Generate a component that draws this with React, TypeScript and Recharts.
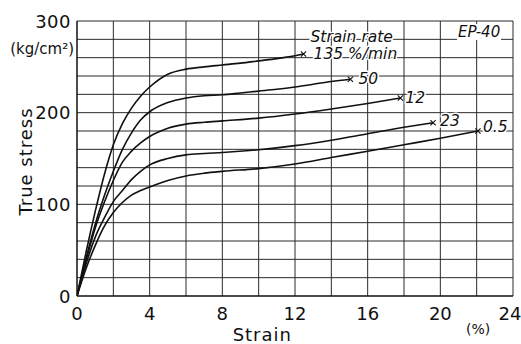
import React from "react";
import { LineChart, Line, XAxis, YAxis, ReferenceLine } from "recharts";

// ---- data (strain in %, true stress in kg/cm²) ----
const strain135 = [0, 0.5, 1, 1.5, 2, 2.5, 3, 3.5, 4, 5, 6, 7, 8, 9, 10, 11, 12, 12.47];
const stress135 = [0, 48, 92, 132, 165, 188, 205, 218, 228, 242, 247.5, 250, 252, 254, 256.5, 259, 262, 264];

const strain50 = [0, 0.5, 1, 1.5, 2, 2.5, 3, 3.5, 4, 5, 6, 7, 8, 9, 10, 11, 12, 13, 14, 15.05];
const stress50 = [0, 41, 78, 109, 136, 160, 178, 192, 201, 211, 216, 218.5, 219.5, 221.5, 223.5, 225.5, 228, 231, 234, 236.5];

const strain12 = [0, 0.5, 1, 1.5, 2, 2.5, 3, 3.5, 4, 5, 6, 7, 8, 10, 12, 14, 16, 17.8];
const stress12 = [0, 39, 74, 102, 126, 146, 158, 167, 174, 183, 187.5, 189.5, 191, 194, 198.5, 204, 210, 216];

const strain23 = [0, 0.5, 1, 1.5, 2, 2.5, 3, 3.5, 4, 5, 6, 7, 8, 10, 12, 14, 16, 18, 19.6];
const stress23 = [0, 35, 64, 85, 103, 115, 127, 136, 143, 150, 154, 155.5, 156.5, 159.5, 164, 170, 177, 184, 189];

const strain05 = [0, 0.5, 1, 1.5, 2, 2.5, 3, 3.5, 4, 5, 6, 7, 8, 10, 12, 14, 16, 18, 20, 22.07];
const stress05 = [0, 30, 55, 76, 91, 102, 110, 115, 119, 126, 131, 134, 136, 139, 144, 151, 158, 165, 172, 180];

const rateLabels = ["135 %/min", "50", "12", "23", "0.5"];
const xTicks = [0, 4, 8, 12, 16, 20, 24];
const yTicks = [0, 100, 200, 300];
const gridX = [2, 4, 6, 8, 10, 12, 14, 16, 18, 20, 22, 24];
const gridY = [20, 40, 60, 80, 100, 120, 140, 160, 180, 200, 220, 240, 260, 280, 300];

const zip = (xs: number[], ys: number[]) => xs.map((x, i) => ({ strain: x, stress: ys[i] }));

const series = [
  { data: zip(strain135, stress135), label: rateLabels[0], dx: 10, dy: 5, title: true },
  { data: zip(strain50, stress50), label: rateLabels[1], dx: 8, dy: 5 },
  { data: zip(strain12, stress12), label: rateLabels[2], dx: 5, dy: 5 },
  { data: zip(strain23, stress23), label: rateLabels[3], dx: 7, dy: 3 },
  { data: zip(strain05, stress05), label: rateLabels[4], dx: 5, dy: 1 },
];

const FONT = "'DejaVu Sans', sans-serif";
const INK = "#111";

const halo = { paintOrder: "stroke" as const, stroke: "#fff", strokeWidth: 3, strokeLinejoin: "round" as const };

const makeEnd = (n: number, label: string, dx: number, dy: number, title?: boolean) => (props: any) => {
  const { cx, cy, index } = props;
  if (index !== n - 1 || cx == null) return <g key={`e${index}`} />;
  const s = 2.6;
  return (
    <g key={`e${index}`}>
      <path d={`M${cx - s},${cy - s}L${cx + s},${cy + s}M${cx - s},${cy + s}L${cx + s},${cy - s}`} stroke={INK} strokeWidth={1.1} />
      {title && (
        <text x={cx + dx - 3} y={cy + dy - 17} fontFamily={FONT} fontStyle="italic" fontSize={15.5} fill={INK} style={halo}>
          Strain rate
        </text>
      )}
      <text x={cx + dx} y={cy + dy} fontFamily={FONT} fontStyle="italic" fontSize={15.5} fill={INK} style={halo}>
        {label}
      </text>
    </g>
  );
};

const YTick = (props: any) => {
  const { x, y, payload } = props;
  return (
    <g>
      <text x={x} y={y} textAnchor="end" dominantBaseline="central" fontFamily={FONT} fontSize={18} fill={INK} letterSpacing={0.5}>
        {payload.value}
      </text>
      {payload.value === 300 && (
        <text x={x + 3} y={y + 28} textAnchor="end" dominantBaseline="central" fontFamily={FONT} fontSize={15} fill={INK}>
          (kg/cm²)
        </text>
      )}
    </g>
  );
};

const XTick = (props: any) => {
  const { x, y, payload } = props;
  const last = payload.value === xTicks[xTicks.length - 1];
  return (
    <text x={last ? x - 3 : x} y={y} dy="0.71em" textAnchor="middle" fontFamily={FONT} fontSize={18} fill={INK}>
      {payload.value}
    </text>
  );
};

const XLabel = (props: any) => {
  const { viewBox } = props;
  const { x, y, width } = viewBox;
  return (
    <g>
      <text x={x + width * 0.425} y={y + 45} textAnchor="middle" fontFamily={FONT} fontSize={18} fill={INK} letterSpacing={1}>
        Strain
      </text>
      <text x={x + width * 0.92} y={y + 38} textAnchor="middle" fontFamily={FONT} fontSize={14} fill={INK}>
        (%)
      </text>
    </g>
  );
};

const YLabel = (props: any) => {
  const { viewBox } = props;
  const { x, y, height } = viewBox;
  const cx = x + 25;
  const cy = y + height * 0.5 + 3;
  return (
    <text
      x={cx}
      y={cy}
      transform={`rotate(-90 ${cx} ${cy})`}
      textAnchor="middle"
      dominantBaseline="central"
      fontFamily={FONT}
      fontSize={18}
      fill={INK}
      letterSpacing={1}
    >
      True stress
    </text>
  );
};

export default function App() {
  return (
    <div style={{ position: "absolute", left: 0, top: 0, width: 521, height: 344, background: "#fff" }}>
      <LineChart width={521} height={344} margin={{ top: 21, right: 8, bottom: 0, left: 0 }}>
        <XAxis
          type="number"
          dataKey="strain"
          domain={[0, 24]}
          ticks={xTicks}
          allowDataOverflow
          tickLine={false}
          tickSize={0}
          tickMargin={11}
          axisLine={{ stroke: INK, strokeWidth: 1.5 }}
          tick={<XTick />}
          height={48}
          label={<XLabel />}
        />
        <YAxis
          type="number"
          dataKey="stress"
          domain={[0, 300]}
          ticks={yTicks}
          allowDataOverflow
          tickLine={false}
          tickSize={0}
          tickMargin={6}
          width={77}
          axisLine={{ stroke: INK, strokeWidth: 1.5 }}
          tick={<YTick />}
          label={<YLabel />}
        />
        {gridX.map((v) => (
          <ReferenceLine key={`gx${v}`} x={v} stroke="#2a2a2a" strokeWidth={1} ifOverflow="visible" />
        ))}
        {gridY.map((v) => (
          <ReferenceLine key={`gy${v}`} y={v} stroke="#2a2a2a" strokeWidth={1} ifOverflow="visible" />
        ))}
        {series.map((s, i) => (
          <Line
            key={`s${i}`}
            data={s.data}
            dataKey="stress"
            type="monotone"
            stroke={INK}
            strokeWidth={1.6}
            dot={makeEnd(s.data.length, s.label, s.dx, s.dy, s.title)}
            activeDot={false}
            isAnimationActive={false}
          />
        ))}
      </LineChart>
      <div
        style={{
          position: "absolute",
          left: 457,
          top: 24,
          fontFamily: FONT,
          fontStyle: "italic",
          fontSize: 15,
          color: INK,
          background: "#fff",
          lineHeight: "16px",
          padding: "0 1px",
        }}
      >
        EP-40
      </div>
    </div>
  );
}
